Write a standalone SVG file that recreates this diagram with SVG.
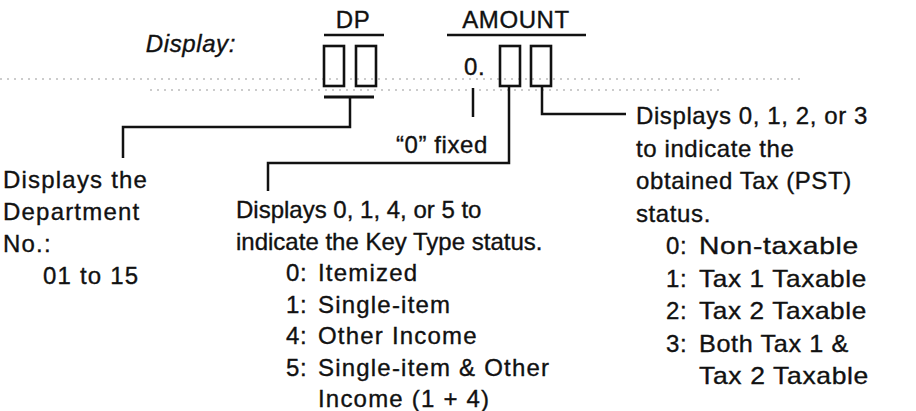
<svg xmlns="http://www.w3.org/2000/svg" width="916" height="411" viewBox="0 0 916 411">
<style>
text{font-family:"Liberation Sans",Arial,Helvetica,sans-serif;font-size:24px;fill:#111;stroke:#111;stroke-width:0.35;letter-spacing:0.6px}
.it{font-style:italic}
.left{letter-spacing:1.2px}
.mh{letter-spacing:0px}
.li{letter-spacing:1.2px}
.box{fill:none;stroke:#111;stroke-width:2.6}
.conn{fill:none;stroke:#111;stroke-width:2.5}
.rule{stroke:#111;stroke-width:2.5}
.scan{stroke:#999;stroke-width:1;stroke-dasharray:2 5}
</style>
<g id="scan-artifacts">
<line class="scan" x1="0" y1="79" x2="800" y2="79"/>
<line class="scan" x1="150" y1="90" x2="720" y2="90"/>
</g>
<g id="display-label"><text class="it" x="236" y="52" text-anchor="end">Display:</text></g>
<g id="dp">
<text x="353" y="28" text-anchor="middle">DP</text>
<line class="rule" x1="324" y1="35" x2="384" y2="35"/>
<rect class="box" x="324" y="46" width="20" height="40"/>
<rect class="box" x="356" y="46" width="20" height="40"/>
<line x1="324" y1="97" x2="374" y2="97" stroke="#111" stroke-width="3"/>
</g>
<g id="amount">
<text x="516" y="28" text-anchor="middle">AMOUNT</text>
<line class="rule" x1="447" y1="35" x2="586" y2="35"/>
<text x="464" y="75">0.</text>
<rect class="box" x="500" y="46" width="20" height="40"/>
<rect class="box" x="531" y="46" width="20" height="40"/>
</g>
<g id="connectors">
<polyline class="conn" points="350,97 350,127 123,127 123,158"/>
<line class="conn" x1="473" y1="88" x2="473" y2="117"/>
<polyline class="conn" points="509,86 509,163 268,163 268,191"/>
<polyline class="conn" points="542,86 542,114 626,114"/>
</g>
<g id="fixed-note"><text x="488" y="153" text-anchor="end">“0” fixed</text></g>
<g id="dept-note">
<text class="left" x="3" y="188">Displays the</text>
<text class="left" x="3" y="220">Department</text>
<text class="left" x="3" y="252">No.:</text>
<text class="left" x="43" y="284">01 to 15</text>
</g>
<g id="keytype-note">
<text class="mh" x="236" y="218">Displays 0, 1, 4, or 5 to</text>
<text class="mh" x="236" y="249.5">indicate the Key Type status.</text>
<text x="286" y="281">0:</text><text class="li" x="318" y="281">Itemized</text>
<text x="286" y="312.5">1:</text><text class="li" x="318" y="312.5">Single-item</text>
<text x="286" y="344">4:</text><text class="li" x="318" y="344">Other Income</text>
<text x="286" y="375.5">5:</text><text class="li" x="318" y="375.5">Single-item &amp; Other</text>
<text class="li" x="318" y="407">Income (1 + 4)</text>
</g>
<g id="tax-note">
<text x="636" y="124">Displays 0, 1, 2, or 3</text>
<text x="636" y="156.5">to indicate the</text>
<text x="636" y="189">obtained Tax (PST)</text>
<text x="636" y="221.5">status.</text>
<text x="666" y="254">0:</text><text x="699" y="254" textLength="160" lengthAdjust="spacingAndGlyphs">Non-taxable</text>
<text x="666" y="286.5">1:</text><text x="699" y="286.5" textLength="168" lengthAdjust="spacingAndGlyphs">Tax 1 Taxable</text>
<text x="666" y="319">2:</text><text x="699" y="319" textLength="168" lengthAdjust="spacingAndGlyphs">Tax 2 Taxable</text>
<text x="666" y="351.5">3:</text><text x="699" y="351.5" textLength="150" lengthAdjust="spacingAndGlyphs">Both Tax 1 &amp;</text>
<text x="699" y="384" textLength="170" lengthAdjust="spacingAndGlyphs">Tax 2 Taxable</text>
</g>
</svg>
